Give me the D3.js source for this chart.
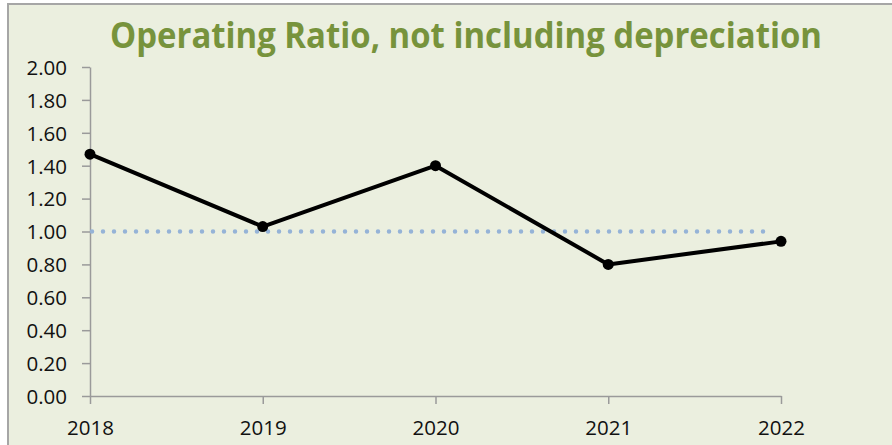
<!DOCTYPE html>
<html>
<head>
<meta charset="utf-8">
<script src="https://cdn.jsdelivr.net/npm/d3@7"></script>
<style>
  body { margin: 0; background: #fff; }
  svg { display: block; }
</style>
</head>
<body>
<div id="chart"></div>
<script>
const years = ["2018", "2019", "2020", "2021", "2022"];
const ratio = [1.47, 1.03, 1.40, 0.80, 0.94];
const target = 1.00;
const yTicks = [0, 0.2, 0.4, 0.6, 0.8, 1.0, 1.2, 1.4, 1.6, 1.8, 2.0];
const title = "Operating Ratio, not including depreciation";

const width = 892, height = 445;
const plotLeft = 90, plotRight = 781, plotTop = 67, plotBottom = 396;

const svg = d3.select('#chart').append('svg')
    .attr('width', width)
    .attr('height', height);

// panel background + frame (only left/top edges visible in the crop)
svg.append('rect')
    .attr('x', 0).attr('y', 0)
    .attr('width', width).attr('height', height)
    .attr('fill', '#fff');
svg.append('rect')
    .attr('x', 8).attr('y', 4)
    .attr('width', width).attr('height', height)
    .attr('fill', '#ebefdf')
    .attr('stroke', '#a6a6a6')
    .attr('stroke-width', 2);

svg.append('text')
    .attr('x', 466).attr('y', 48)
    .attr('text-anchor', 'middle')
    .attr('font-family', '"Open Sans", sans-serif')
    .attr('font-weight', 'bold')
    .attr('font-size', 35)
    .attr('fill', '#77933c')
    .attr('textLength', 712)
    .attr('lengthAdjust', 'spacingAndGlyphs')
    .text(title);

const x = d3.scalePoint().domain(years).range([plotLeft, plotRight]);
const y = d3.scaleLinear().domain([0, 2]).range([plotBottom, plotTop]);

const yAxis = svg.append('g')
    .attr('transform', 'translate(' + plotLeft + ',0)')
    .call(d3.axisLeft(y).tickValues(yTicks).tickFormat(d3.format('.2f')).tickSize(8).tickSizeOuter(0));

const xAxis = svg.append('g')
    .attr('transform', 'translate(0,' + plotBottom + ')')
    .call(d3.axisBottom(x).tickSize(8).tickSizeOuter(0));

[xAxis, yAxis].forEach(g => {
    g.attr('font-size', null).attr('font-family', null);
    g.selectAll('path, line').attr('stroke', '#9a9a9a').attr('stroke-width', 1.5);
    g.selectAll('text')
        .style('font-family', '"Open Sans", sans-serif')
        .style('font-size', '20.5px')
        .attr('fill', '#111');
});
yAxis.selectAll('text').attr('x', -23).attr('dy', '0.36em');
xAxis.selectAll('text').attr('y', 0).attr('dy', 39);

// dotted reference line at 1.00
svg.append('line')
    .attr('x1', x(years[0]) + 2)
    .attr('x2', x(years[years.length - 1]) - 8)
    .attr('y1', y(target)).attr('y2', y(target))
    .attr('stroke', '#95b3d7')
    .attr('stroke-width', 4.5)
    .attr('stroke-linecap', 'round')
    .attr('stroke-dasharray', '0 11');

const line = d3.line()
    .x((d, i) => x(years[i]))
    .y(d => y(d));

svg.append('path')
    .datum(ratio)
    .attr('d', line)
    .attr('fill', 'none')
    .attr('stroke', '#000')
    .attr('stroke-width', 4)
    .attr('stroke-linejoin', 'round');

svg.selectAll('circle.pt')
    .data(ratio)
    .enter()
    .append('circle')
    .attr('class', 'pt')
    .attr('cx', (d, i) => x(years[i]))
    .attr('cy', d => y(d))
    .attr('r', 5.5)
    .attr('fill', '#000');
</script>
</body>
</html>
